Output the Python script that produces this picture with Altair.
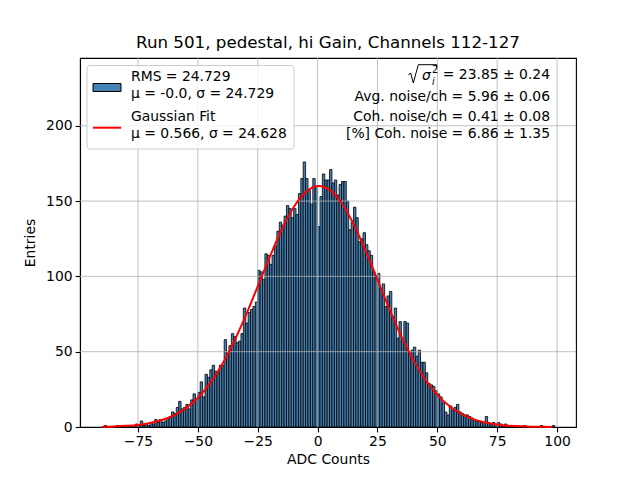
import altair as alt
import pandas as pd

# ---------------- data ----------------
bin_left = list(range(-89, 99))
counts = [
    1, 0, 0, 0, 0, 1, 0, 0, 1, 0,          # -89 .. -80
    1, 1, 0, 2, 1, 4, 1, 2, 1, 3,          # -79 .. -70
    2, 5, 3, 5, 3, 4, 6, 7, 10, 9,         # -69 .. -60
    13, 17, 12, 13, 15, 12, 18, 22, 19, 23,  # -59 .. -50
    30, 20, 35, 33, 38, 41, 37, 36, 41, 41,  # -49 .. -40
    58, 49, 54, 62, 60, 56, 57, 62, 79, 69,  # -39 .. -30
    76, 78, 80, 83, 104, 103, 98, 115, 114, 108,  # -29 .. -20
    114, 120, 130, 136, 134, 140, 147, 145, 139, 145,  # -19 .. -10
    141, 155, 165, 176, 165, 157, 148, 165, 160,  # -9 .. -1
    133, 153, 168, 164, 164, 171, 162, 164, 154, 161,  # 0 .. 9
    163, 163, 150, 131, 136, 146, 139, 123, 125, 129,  # 10 .. 19
    121, 117, 114, 103, 100, 102, 92, 95, 80, 87,  # 20 .. 29
    90, 73, 79, 59, 70, 57, 70, 69, 49, 51,  # 30 .. 39
    53, 47, 51, 43, 43, 36, 29, 28, 27, 24,  # 40 .. 49
    22, 20, 16, 10, 8, 14, 11, 13, 15, 10,  # 50 .. 59
    9, 8, 8, 7, 6, 5, 4, 4, 3, 3,          # 60 .. 69
    7, 3, 2, 3, 2, 3, 2, 1, 2, 1,          # 70 .. 79
    1, 1, 0, 1, 0, 0, 1, 0, 0, 0,          # 80 .. 89
    0, 0, 0, 1, 0, 0, 0, 0, 1,             # 90 .. 98
]

fit_x = [-90, -85, -80, -75, -70, -65, -60, -55, -50, -45, -40, -35, -30, -25,
         -20, -15, -10, -5, 0.5, 5, 10, 15, 20, 25, 30, 35, 40, 45, 50, 55, 60,
         65, 70, 75, 80, 85, 90, 95, 98]
fit_y = [0.2, 0.4, 0.8, 1.4, 2.6, 4.6, 7.7, 12.5, 19.4, 28.8, 41.1, 56.3, 73.9, 93.3,
         112.8, 131.0, 145.9, 155.9, 160.0, 157.4, 148.7, 134.8, 117.2, 97.8, 78.3, 60.2, 44.4,
         31.4, 21.3, 13.9, 8.7, 5.2, 3.0, 1.7, 0.9, 0.45, 0.2, 0.1, 0.06]

x_ticks = [-75, -50, -25, 0, 25, 50, 75, 100]
y_ticks = [0, 50, 100, 150, 200]

title_text = "Run 501, pedestal, hi Gain, Channels 112-127"
legend_lines = ["RMS = 24.729", "μ = -0.0, σ = 24.729",
                "Gaussian Fit", "μ = 0.566, σ = 24.628"]
stats_first = "= 23.85 ± 0.24"
stats_lines = ["Avg. noise/ch = 5.96 ± 0.06",
               "Coh. noise/ch = 0.41 ± 0.08", "[%] Coh. noise = 6.86 ± 1.35"]

FONT = "DejaVu Sans"
BAR_COLOR = "#4682b4"

hist = pd.DataFrame({"lo": bin_left, "hi": [b + 1 for b in bin_left],
                     "n": counts, "base": [0] * len(bin_left)})
fit = pd.DataFrame({"x": fit_x, "y": fit_y})

xs = alt.Scale(domain=[-99.2, 107.9], nice=False, zero=False)
ys = alt.Scale(domain=[0, 245], nice=False, zero=False)

bars = alt.Chart(hist).mark_rect(fill=BAR_COLOR, stroke="black", strokeWidth=0.8).encode(
    x=alt.X("lo:Q", scale=xs,
            axis=alt.Axis(values=x_ticks, title="ADC Counts", grid=False, format="d")),
    x2="hi:Q",
    y=alt.Y("n:Q", scale=ys,
            axis=alt.Axis(values=y_ticks, title="Entries", grid=False, format="d")),
    y2="base:Q",
)

vgrid = alt.Chart(pd.DataFrame({"v": x_ticks})).mark_rule(
    color="#b0b0b0", strokeWidth=0.8).encode(x=alt.X("v:Q", scale=xs))
hgrid = alt.Chart(pd.DataFrame({"v": y_ticks[1:]})).mark_rule(
    color="#b0b0b0", strokeWidth=0.8).encode(y=alt.Y("v:Q", scale=ys))

line = alt.Chart(fit).mark_line(color="red", strokeWidth=2, interpolate="monotone").encode(
    x=alt.X("x:Q", scale=xs), y=alt.Y("y:Q", scale=ys))

one = pd.DataFrame({"a": [0]})

legend_box = alt.Chart(one).mark_rect(
    fill="white", fillOpacity=0.8, stroke="#cccccc", strokeWidth=1, cornerRadius=3
).encode(x=alt.value(7), x2=alt.value(214), y=alt.value(7.5), y2=alt.value(91))

legend_patch = alt.Chart(one).mark_rect(
    fill=BAR_COLOR, stroke="black", strokeWidth=1
).encode(x=alt.value(13), x2=alt.value(41), y=alt.value(25.5), y2=alt.value(33.5))

legend_line = alt.Chart(one).mark_rule(color="red", strokeWidth=2).encode(
    x=alt.value(13), x2=alt.value(41), y=alt.value(69.7))


def txt(s, px, py, align="left", size=13.9, style="normal"):
    return alt.Chart(one).mark_text(
        text=s, align=align, baseline="middle", font=FONT, fontSize=size,
        fontStyle=style, color="black"
    ).encode(x=alt.value(px), y=alt.value(py))


def seg(x1, y1, x2, y2):
    return alt.Chart(one).mark_rule(color="black", strokeWidth=1).encode(
        x=alt.value(x1), y=alt.value(y1), x2=alt.value(x2), y2=alt.value(y2))


legend_texts = [txt(s, 51, py) for s, py in zip(legend_lines, [18.7, 36.3, 58.7, 76.3])]
stats_texts = [txt(s, 470, py, align="right") for s, py in zip(stats_lines, [38.7, 59.3, 76.3])]

# sqrt(sigma_i^2) = ... drawn as a small math expression
math_parts = [
    txt(stats_first, 470, 17, align="right"),
    txt("σ", 346.5, 18, align="center", style="italic"),
    txt("i", 353.3, 23.5, align="center", size=9.7, style="italic"),
    txt("2", 355.2, 11.5, align="center", size=9.7),
    seg(328.3, 16.7, 330.7, 15.2),
    seg(330.7, 15.2, 333.3, 25),
    seg(333.3, 25, 338.3, 6.7),
    seg(338.3, 6.7, 356.7, 6.7),
    seg(356.7, 6.7, 356.7, 9.3),
]

chart = alt.layer(
    bars, vgrid, hgrid, line, legend_box, legend_patch, legend_line,
    *legend_texts, *stats_texts, *math_parts
).properties(
    width=496, height=369,
    title=alt.TitleParams(title_text, font=FONT, fontSize=16.7, fontWeight="normal",
                          color="black", anchor="middle", offset=6),
    autosize=alt.AutoSizeParams(type="none"),
    padding={"left": 72, "top": 50, "right": 50, "bottom": 40},
).configure_view(
    stroke="black", strokeWidth=1.1
).configure_axis(
    labelFont=FONT, labelFontSize=13.9, labelColor="black",
    titleFont=FONT, titleFontSize=13.9, titleFontWeight="normal", titleColor="black",
    tickColor="black", tickSize=4.9, tickWidth=1.1, labelPadding=3,
    domainColor="black", domainWidth=1.1,
).configure_axisX(titlePadding=4).configure_axisY(titlePadding=8)

chart.save("out.html", embed_options={"renderer": "svg", "actions": False})
